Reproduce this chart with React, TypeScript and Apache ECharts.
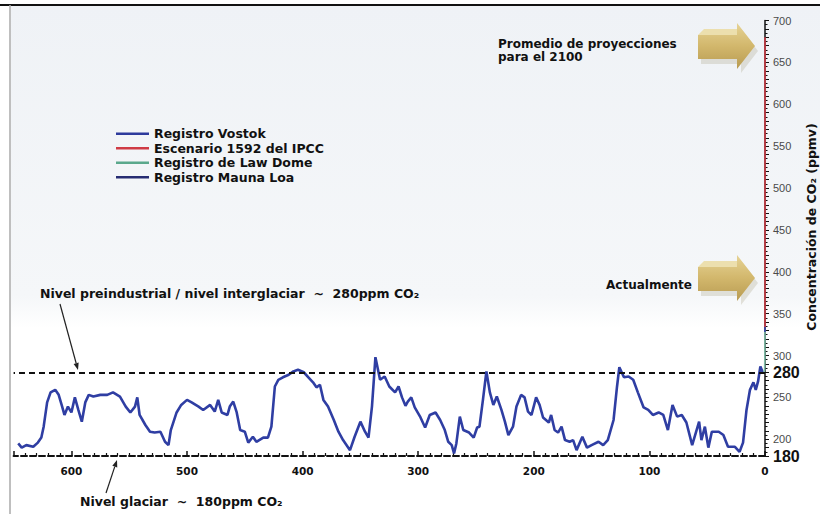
import React, { useEffect, useRef } from "react";
import * as echarts from "echarts";

// Vostok ice core record: age (thousand years before present) and CO2 (ppmv)
const vostokAge = [
  646, 643, 639, 633, 629, 626, 624, 621, 618, 614, 611, 608, 606, 603, 600, 597, 594, 591, 588, 585,
  581, 575, 569, 564, 558, 553, 549, 545, 543, 541, 536, 532, 528, 523, 519, 516, 514, 509, 505, 500,
  496, 490, 486, 480, 476, 473, 470, 465, 463, 460, 457, 454, 450, 447, 443, 440, 434, 430, 427, 424,
  421, 417, 412, 408, 404, 399, 395, 391, 388, 385, 382, 378, 373, 369, 365, 359, 355, 350, 346, 343,
  340, 337, 333, 329, 325, 320, 317, 314, 311, 309, 306, 303, 298, 294, 290, 285, 281, 277, 274, 271,
  269, 267, 264, 261, 256, 252, 249, 247, 244, 241, 238, 235, 232, 228, 225, 222, 218, 215, 211, 208,
  205, 202, 198, 195, 192, 187, 185, 182, 179, 176, 173, 169, 166, 163, 158, 154, 150, 144, 140, 136,
  131, 128, 126, 122, 118, 114, 110, 105, 101, 97, 92, 88, 84, 80, 76, 72, 68, 63, 57, 55,
  52, 49, 46, 40, 36, 32, 26, 22, 19, 16, 13, 10, 8, 6, 4, 2, 1.2,
];
const vostokCO2 = [
  195, 190, 193, 191, 196, 202, 215, 244, 256, 259, 253, 239, 229, 239, 232, 250, 235, 221, 244, 253,
  251, 253, 253, 256, 251, 239, 232, 239, 250, 229, 217, 209, 208, 209, 197, 193, 211, 232, 241, 247,
  244, 239, 235, 241, 233, 247, 232, 229, 239, 245, 232, 211, 209, 196, 203, 197, 202, 202, 215, 263,
  271, 274, 277, 281, 283, 280, 274, 268, 262, 265, 247, 239, 223, 209, 199, 187, 203, 221, 209, 202,
  239, 298, 271, 275, 263, 256, 263, 250, 240, 245, 250, 238, 226, 214, 229, 232, 223, 211, 197, 193,
  183, 195, 227, 211, 208, 202, 214, 215, 247, 281, 256, 241, 251, 235, 221, 205, 215, 239, 253, 250,
  233, 229, 250, 241, 226, 220, 229, 211, 208, 215, 199, 197, 199, 187, 203, 190, 193, 197, 193, 199,
  223, 263, 286, 274, 275, 271, 256, 238, 235, 229, 232, 229, 211, 241, 227, 229, 220, 193, 221, 199,
  215, 190, 209, 209, 205, 191, 191, 185, 196, 235, 259, 268, 259, 269, 287, 280, 280,
];
// Law Dome record (last millennium)
const lawDomeAge = [1.0, 0.6, 0.3, 0.15, 0.05];
const lawDomeCO2 = [280, 281, 284, 300, 330];
// Mauna Loa record
const maunaLoaAge = [0.05, 0.0];
const maunaLoaCO2 = [328, 336];
// IPCC IS92a scenario up to 2100
const ipccAge = [0.0, 0.0];
const ipccCO2 = [334, 680];

const seriesNames = [
  "Registro Vostok",
  "Escenario 1592 del IPCC",
  "Registro de Law Dome",
  "Registro Mauna Loa",
];
const xTickLabels = ["600", "500", "400", "300", "200", "100", "0"];

const zip = (a: number[], b: number[]) => a.map((v, i) => [v, b[i]]);

const BOLD = "'DejaVu Sans', Arial, sans-serif";

function arrowLine(x1: number, y1: number, x2: number, y2: number): any[] {
  const dx = x2 - x1;
  const dy = y2 - y1;
  const len = Math.sqrt(dx * dx + dy * dy);
  const ux = dx / len;
  const uy = dy / len;
  const hl = 7;
  const hw = 2.6;
  const bx = x2 - ux * hl;
  const by = y2 - uy * hl;
  return [
    {
      type: "line",
      shape: { x1, y1, x2: bx, y2: by },
      style: { stroke: "#222", lineWidth: 1.2 },
    },
    {
      type: "polygon",
      shape: {
        points: [
          [x2, y2],
          [bx - uy * hw, by + ux * hw],
          [bx + uy * hw, by - ux * hw],
        ],
      },
      style: { fill: "#222" },
    },
  ];
}

function goldArrow(x: number, y: number): any[] {
  return [
    {
      type: "polygon",
      shape: {
        points: [
          [x + 3, y + 14],
          [x + 43, y + 14],
          [x + 43, y + 2],
          [x + 60, y + 24],
          [x + 43, y + 46],
          [x + 43, y + 37],
          [x + 3, y + 37],
        ],
      },
      style: { fill: "rgba(160,150,120,0.25)" },
    },
    {
      type: "polygon",
      shape: {
        points: [
          [x, y + 8],
          [x + 6, y + 2],
          [x + 40, y + 2],
          [x + 40, y + 8],
        ],
      },
      style: { fill: "#ecdfae" },
    },
    {
      type: "polygon",
      shape: {
        points: [
          [x, y + 8],
          [x + 39, y + 8],
          [x + 39, y - 4],
          [x + 57, y + 19],
          [x + 39, y + 42],
          [x + 39, y + 32],
          [x, y + 32],
        ],
      },
      style: {
        fill: new echarts.graphic.LinearGradient(0, 0, 0, 1, [
          { offset: 0, color: "#e6d395" },
          { offset: 0.5, color: "#d2b76c" },
          { offset: 1, color: "#b89b52" },
        ]),
      },
    },
  ];
}

export default function App() {
  const ref = useRef<HTMLDivElement>(null);

  useEffect(() => {
    if (!ref.current) return;
    const chart = echarts.init(ref.current, undefined, { renderer: "svg" });

    const option: any = {
      animation: false,
      backgroundColor: "#ffffff",
      grid: { left: 13.6, right: 55, top: 20.5, bottom: 58, containLabel: false },
      legend: {
        show: true,
        orient: "vertical",
        left: 111,
        top: 122,
        icon: "rect",
        itemWidth: 33,
        itemHeight: 2.5,
        itemGap: 1,
        selectedMode: false,
        data: seriesNames,
        textStyle: {
          fontFamily: BOLD,
          fontWeight: "bold",
          fontSize: 12.5,
          color: "#111",
          lineHeight: 13.5,
        },
      },
      xAxis: {
        type: "value",
        min: 0,
        max: 650,
        interval: 100,
        inverse: true,
        axisLine: { show: true, lineStyle: { color: "#111", width: 2, type: [6, 3] } },
        axisTick: { show: true, inside: true, length: 5, lineStyle: { color: "#111", width: 1.5 } },
        minorTick: { show: true, splitNumber: 10, length: 3, lineStyle: { color: "#111", width: 1.2 } },
        splitLine: { show: false },
        axisLabel: {
          showMaxLabel: false,
          margin: 9,
          fontFamily: BOLD,
          fontWeight: "bold",
          fontSize: 10.5,
          color: "#111",
          formatter: (v: number) => {
            const s = String(v);
            return xTickLabels.indexOf(s) >= 0 ? s : "";
          },
        },
      },
      yAxis: {
        type: "value",
        position: "right",
        offset: 2,
        min: 180,
        max: 700,
        interval: 10,
        axisLine: { show: true, lineStyle: { color: "#111", width: 1.5 } },
        axisTick: { show: true, inside: false, length: 4, lineStyle: { color: "#111", width: 1 } },
        minorTick: { show: true, splitNumber: 2, length: 2.5, lineStyle: { color: "#111", width: 1 } },
        splitLine: { show: false },
        axisLabel: {
          margin: 6,
          fontFamily: "'Liberation Sans Narrow', 'Liberation Sans', Arial, sans-serif",
          fontSize: 11,
          color: "#4a4a4a",
          formatter: (v: number) => {
            if (v === 180 || v === 280) return `{b|${v}}`;
            if (v % 50 === 0) return String(v);
            return "";
          },
          rich: {
            b: {
              fontFamily: "'Liberation Sans', Arial, sans-serif",
              fontWeight: "bold",
              fontSize: 16,
              color: "#111",
            },
          },
        },
      },
      series: [
        {
          name: seriesNames[0],
          type: "line",
          data: zip(vostokAge, vostokCO2),
          showSymbol: false,
          symbol: "none",
          color: "#2d3a9c",
          lineStyle: { width: 2.6, color: "#2f3ea3" },
          z: 3,
          markLine: {
            silent: true,
            symbol: "none",
            label: { show: false },
            lineStyle: { type: [6, 4], color: "#111", width: 1.8 },
            data: [{ yAxis: 280 }],
          },
        },
        {
          name: seriesNames[1],
          type: "line",
          data: zip(ipccAge, ipccCO2),
          showSymbol: false,
          symbol: "none",
          color: "#cf3b45",
          lineStyle: { width: 1.6, color: "#cf3b45" },
          z: 6,
        },
        {
          name: seriesNames[2],
          type: "line",
          data: zip(lawDomeAge, lawDomeCO2),
          showSymbol: false,
          symbol: "none",
          color: "#5aa88c",
          lineStyle: { width: 1.6, color: "#7dbba5" },
          z: 4,
        },
        {
          name: seriesNames[3],
          type: "line",
          data: zip(maunaLoaAge, maunaLoaCO2),
          showSymbol: false,
          symbol: "none",
          color: "#262c72",
          lineStyle: { width: 1.6, color: "#3a47a8" },
          z: 5,
        },
      ],
      graphic: [
        {
          type: "rect",
          z: -10,
          silent: true,
          shape: { x: 11, y: 6, width: 809, height: 322 },
          style: {
            fill: new echarts.graphic.LinearGradient(0, 0, 0, 1, [
              { offset: 0, color: "#eff2f6" },
              { offset: 0.9, color: "#f5f7f9" },
              { offset: 1, color: "#ffffff" },
            ]),
          },
        },
        {
          type: "rect",
          z: 10,
          silent: true,
          shape: { x: 0, y: 4, width: 820, height: 2 },
          style: { fill: "#111" },
        },
        {
          type: "line",
          z: 10,
          silent: true,
          shape: { x1: 10, y1: 5, x2: 10, y2: 514 },
          style: { stroke: "#aaa", lineWidth: 1.5 },
        },
        {
          type: "group",
          z: 10,
          silent: true,
          children: [
            ...goldArrow(698, 27),
            ...goldArrow(698, 259),
            ...arrowLine(60, 304, 78, 370),
            ...arrowLine(106, 493, 117, 460),
            {
              type: "text",
              x: 498,
              y: 44,
              style: {
                text: "Promedio de proyecciones",
                fontFamily: BOLD,
                fontWeight: "bold",
                fontSize: 12,
                fill: "#111",
                verticalAlign: "middle",
              },
            },
            {
              type: "text",
              x: 498,
              y: 57,
              style: {
                text: "para el 2100",
                fontFamily: BOLD,
                fontWeight: "bold",
                fontSize: 12,
                fill: "#111",
                verticalAlign: "middle",
              },
            },
            {
              type: "text",
              x: 692,
              y: 285,
              style: {
                text: "Actualmente",
                fontFamily: BOLD,
                fontWeight: "bold",
                fontSize: 12,
                fill: "#111",
                align: "right",
                verticalAlign: "middle",
              },
            },
            {
              type: "text",
              x: 40,
              y: 293,
              style: {
                text: "Nivel preindustrial / nivel interglaciar  ~  280ppm CO₂",
                fontFamily: BOLD,
                fontWeight: "bold",
                fontSize: 12.5,
                fill: "#111",
                verticalAlign: "middle",
              },
            },
            {
              type: "text",
              x: 80,
              y: 501,
              style: {
                text: "Nivel glaciar  ~  180ppm CO₂",
                fontFamily: BOLD,
                fontWeight: "bold",
                fontSize: 12.5,
                fill: "#111",
                verticalAlign: "middle",
              },
            },
            {
              type: "text",
              x: 811,
              y: 227,
              rotation: Math.PI / 2,
              style: {
                text: "Concentración de CO₂ (ppmv)",
                fontFamily: BOLD,
                fontWeight: "bold",
                fontSize: 12.5,
                fill: "#111",
                align: "center",
                verticalAlign: "middle",
              },
            },
          ],
        },
      ],
    };

    chart.setOption(option);
    return () => {
      chart.dispose();
    };
  }, []);

  return (
    <div
      ref={ref}
      style={{ position: "absolute", left: 0, top: 0, width: 820, height: 514 }}
    />
  );
}
